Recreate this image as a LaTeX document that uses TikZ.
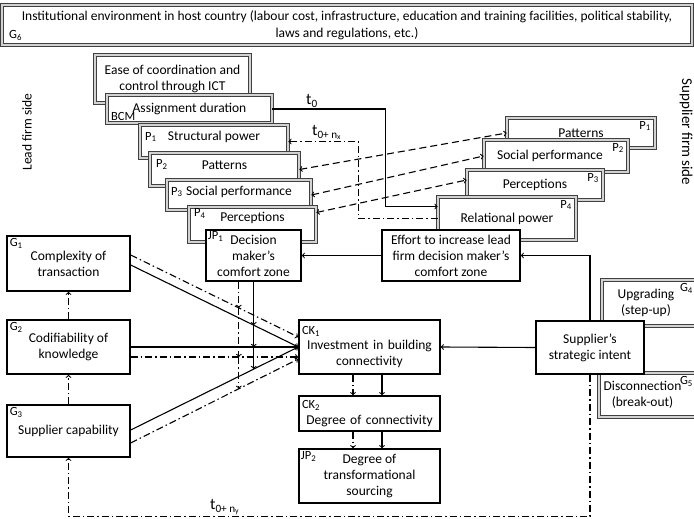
\documentclass[tikz,border=0pt]{standalone}
\usepackage{fontspec}
\setmainfont{Carlito}
\usetikzlibrary{
    arrows,
    calc,
    positioning
}
\tikzset{bvl/.style={draw=black!75, line width=0.75pt, double=gray!35, double distance=2.4pt, fill=white, inner sep=2pt, align=center}}
\tikzset{pln/.style={draw=black, line width=1.4pt, fill=white, inner sep=2pt, align=center}}
\tikzset{tg/.style={inner sep=1pt, font=\fontsize{12.5}{12.5}\selectfont}}
\tikzset{tl/.style={font=\fontsize{16}{16}\selectfont, inner sep=1pt}}
\tikzset{ddot/.style={dash pattern=on 7pt off 3pt on 1.5pt off 3pt}}
\tikzset{dsh/.style={dash pattern=on 7pt off 4pt}}
\newcommand{\sbs}[1]{\textsubscript{#1}}

\begin{document}
\begin{tikzpicture}[x=1pt, y=-1pt, font=\fontsize{13.5}{16}\selectfont, >=to, line width=1.1pt]
    \useasboundingbox (0,0) rectangle (694,519);

    % host country frame across the top
    \node[bvl, minimum width=690, minimum height=40, font=\fontsize{13.5}{17.5}\selectfont] (env) at (347,25) {Institutional environment in host country (labour cost, infrastructure, education and training facilities, political stability,\\laws and regulations, etc.)};
    \node[tg, anchor=south west] (g6) at ([shift={(6pt,3pt)}]env.south west) {G\sbs{6}};

    \node[rotate=90] (lead) at (27,132) {Lead firm side};
    \node[rotate=-90, font=\fontsize{15}{15}\selectfont] (supp) at (686,132) {Supplier firm side};

    % lead firm stack, lower boxes sit on top
    \node[bvl, minimum width=155, minimum height=48] (ict) at (172.5,79) {Ease of coordination and\\control through ICT};
    \node[bvl, minimum width=165, minimum height=28] (dur) at (189.5,109) {Assignment duration};
    \node[tg, anchor=south west] (bcm) at ([shift={(3pt,1pt)}]dur.south west) {BCM};
    \node[bvl, minimum width=148, minimum height=33, text depth=12pt] (sp) at (214,141.5) {Structural power};
    \node[tg, anchor=west] (p1l) at ([shift={(4pt,4.5pt)}]sp.west) {P\sbs{1}};
    \node[bvl, minimum width=149, minimum height=33, text depth=8pt] (lpat) at (224.5,169.5) {Patterns};
    \node[tg, anchor=west] (p2l) at ([shift={(5pt,5pt)}]lpat.west) {P\sbs{2}};
    \node[bvl, minimum width=144, minimum height=30, text depth=9pt] (lsoc) at (239,195) {Social performance};
    \node[tg, anchor=west] (p3l) at ([shift={(3pt,3pt)}]lsoc.west) {P\sbs{3}};
    \node[bvl, minimum width=127, minimum height=35, text depth=16pt] (lper) at (252.5,224.5) {Perceptions};
    \node[tg, anchor=west] (p4l) at ([shift={(4pt,11pt)}]lper.west) {P\sbs{4}};
    \node[pln, minimum width=95, minimum height=51] (jp1) at (253.5,255.5) {Decision\\maker’s\\comfort zone};
    \node[tg, anchor=north west] (jp1t) at ([shift={(1pt,-1pt)}]jp1.north west) {JP\sbs{1}};

    % supplier stack
    \node[bvl, minimum width=148, minimum height=30] (rpat) at (581,133) {Patterns};
    \node[tg, anchor=north east] (p1r) at ([shift={(-3pt,-2pt)}]rpat.north east) {P\sbs{1}};
    \node[bvl, minimum width=144, minimum height=32] (rsoc) at (556,156) {Social performance\rule{12pt}{0pt}};
    \node[tg, anchor=north east] (p2r) at ([shift={(-3pt,-2pt)}]rsoc.north east) {P\sbs{2}};
    \node[bvl, minimum width=136, minimum height=30] (rper) at (535,185) {Perceptions};
    \node[tg, anchor=north east] (p3r) at ([shift={(-3pt,-2pt)}]rper.north east) {P\sbs{3}};
    \node[bvl, minimum width=138, minimum height=43] (rel) at (507,218.5) {Relational power};
    \node[tg, anchor=north east] (p4r) at ([shift={(-3pt,-2pt)}]rel.north east) {P\sbs{4}};
    \node[pln, minimum width=138, minimum height=51] (eff) at (451,255.5) {Effort to increase lead\\firm decision maker’s\\comfort zone};

    % governance factors
    \node[pln, minimum width=123, minimum height=55] (g1) at (68.5,263.5) {Complexity of\\transaction};
    \node[tg, anchor=north west] (g1t) at ([shift={(2pt,-2pt)}]g1.north west) {G\sbs{1}};
    \node[pln, minimum width=123, minimum height=54] (g2) at (68.5,347) {Codifiability of\\knowledge};
    \node[tg, anchor=north west] (g2t) at ([shift={(2pt,-2pt)}]g2.north west) {G\sbs{2}};
    \node[pln, minimum width=123, minimum height=52] (g3) at (68.5,431) {Supplier capability};
    \node[tg, anchor=north west] (g3t) at ([shift={(2pt,-2pt)}]g3.north west) {G\sbs{3}};

    \node[pln, minimum width=141, minimum height=54, text width=135, inner sep=1pt] (ck1) at (369.5,347) {\makebox[\linewidth][l]{\fontsize{12.5}{12.5}\selectfont CK\sbs{1}}\\[-1pt]Investment in building\\connectivity};
    \node[pln, minimum width=141, minimum height=35, text width=135, inner sep=1pt] (ck2) at (369.5,413.5) {\makebox[\linewidth][l]{\fontsize{12.5}{12.5}\selectfont CK\sbs{2}}\\[0pt]Degree of connectivity};
    \node[pln, minimum width=141, minimum height=54] (jp2) at (369.5,476) {Degree of\\transformational\\sourcing};
    \node[tg, anchor=north west] (jp2t) at ([shift={(1pt,-2pt)}]jp2.north west) {JP\sbs{2}};

    \node[bvl, minimum width=98, minimum height=46] (upg) at (651,303) {Upgrading\rule{10pt}{0pt}\\(step-up)\rule{10pt}{0pt}};
    \node[tg, anchor=north east] (g4t) at ([shift={(-6pt,-2pt)}]upg.north east) {G\sbs{4}};
    \node[bvl, minimum width=101, minimum height=44] (dis) at (649.5,395) {Disconnection\rule{14pt}{0pt}\\(break-out)\rule{14pt}{0pt}};
    \node[tg, anchor=north east] (g5t) at ([shift={(-6pt,-2pt)}]dis.north east) {G\sbs{5}};
    \node[pln, minimum width=108, minimum height=53] (ssi) at (590,347.5) {Supplier’s\\strategic intent};

    % time lags
    \draw[->] (dur.east) -- node[tl, above, pos=.35] (t0) {t\sbs{0}} ++(113,0) |- ([yshift=12pt]rel.west);
    \draw[ddot, ->] (rel.west) -| ([xshift=70pt]sp.east) -- node[tl, above, pos=.45] (tnx) {t\sbs{0+ n\sbs{x}}} (sp.east);
    \draw[ddot, ->] (ssi.south) -- ++(0,142) -| node[tl, above, pos=.35] (tny) {t\sbs{0+ n\sbs{y}}} (g3.south);

    \draw
    (lpat.east) edge[dsh, <->] (rpat.west)
    (lsoc.east) edge[dsh, <->] (rsoc.west)
    ([yshift=12pt]lper.east) edge[dsh, <->] ([yshift=5pt]rper.west)
    (eff.west) edge[->] (jp1.east)
    (ssi.west) edge[->] (ck1.east)
    (g3.north) edge[ddot, ->] (g2.south)
    (g2.north) edge[ddot, ->] (g1.south);
    \draw[->] (ssi.north) |- (eff.east);

    \draw[->] ([yshift=-1.5pt]g1.east) -- coordinate[pos=.734] (s1) (ck1.west);
    \draw[->] (g2.east) -- coordinate[pos=.734] (s2) (ck1.west);
    \draw[->] ([yshift=1pt]g3.east) -- coordinate[pos=.734] (s3) (ck1.west);
    \draw[ddot, ->] ([yshift=8.5pt]g1.east) -- coordinate[pos=.645] (d1) ([yshift=10pt]ck1.west);
    \draw[ddot, ->] ([yshift=-10pt]g2.east) -- coordinate[pos=.645] (d2) ([yshift=-10pt]ck1.west);
    \draw[ddot, ->] ([yshift=-12pt]g3.east) -- coordinate[pos=.645] (d3) ([yshift=-12pt]ck1.west);

    \draw
    (jp1.south -| s1) edge[->] (s1)
    (s1) edge[->] (s2)
    (s2) edge[->] (s3)
    (jp1.south -| d1) edge[ddot, ->] (d1)
    (d1) edge[ddot, ->] (d2)
    (d2) edge[ddot, ->] (d3);

    \draw
    ([xshift=12.5pt]ck1.south) edge[->] ([xshift=12.5pt]ck2.north)
    ([xshift=12.5pt]ck2.south) edge[->] ([xshift=12.5pt]jp2.north)
    ([xshift=-16.5pt]ck1.south) edge[ddot, ->] ([xshift=-16.5pt]ck2.north)
    ([xshift=-16.5pt]ck2.south) edge[ddot, ->] ([xshift=-16.5pt]jp2.north);
\end{tikzpicture}
\end{document}
